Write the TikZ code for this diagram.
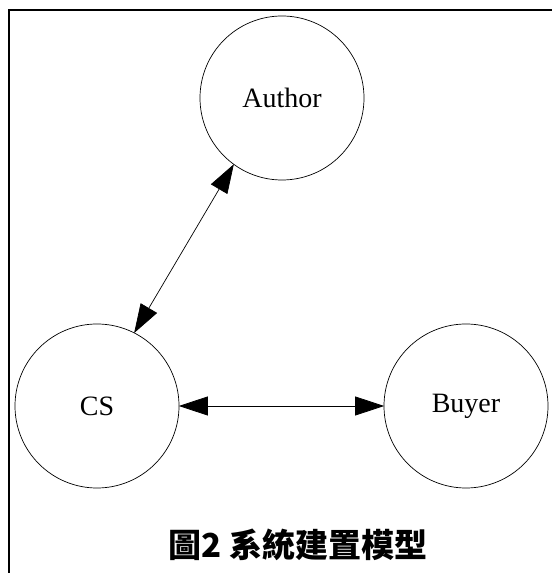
\documentclass[tikz,border=0pt]{standalone}
\usepackage{fontspec}
\setmainfont{Liberation Serif}
\newfontfamily\cjkfont{Noto Sans CJK TC}
\usetikzlibrary{arrows.meta}
\definecolor{Ink}{HTML}{000000}

\begin{document}
\begin{tikzpicture}[x=1pt, y=1pt,
    actor/.style={circle, draw=Ink, line width=0.7pt, minimum size=164pt, inner sep=0pt, font=\fontsize{28}{30}\selectfont},
    link/.style={line width=0.7pt, {Triangle[length=29pt, width=19pt]}-{Triangle[length=29pt, width=19pt]}, shorten <=-0.5pt, shorten >=-0.5pt}
]
    \useasboundingbox (0,0) rectangle (552,573);
    % frame
    \draw[line width=1.5pt] (9,0) -- (9,563) -- (552,563);
    % parties
    \node[actor] (author) at (282,475) {Author};
    \node[actor] (cs) at (97,167) {CS};
    \node[actor] (buyer) at (466,167) {Buyer};
    % links
    \draw[link] (author.234) -- (cs.63);
    \draw[link] (cs) -- (buyer);
    % caption
    \node[font=\cjkfont\bfseries\fontsize{33}{36}\selectfont] (caption) at (298,28) {圖2\hspace{8pt}系統建置模型};
\end{tikzpicture}
\end{document}
